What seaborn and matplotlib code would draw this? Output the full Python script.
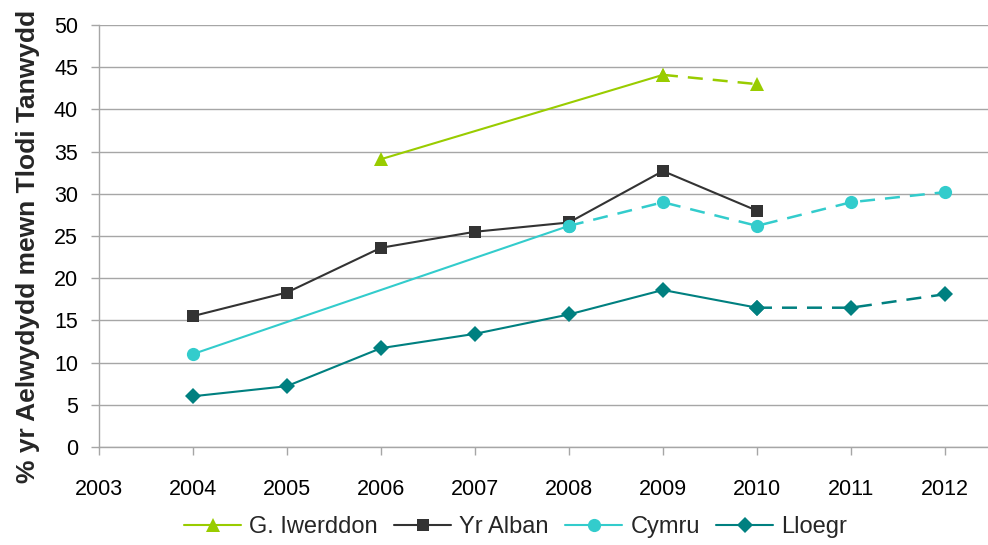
import matplotlib
matplotlib.use("Agg")
import matplotlib.pyplot as plt
import seaborn as sns
import pandas as pd
from matplotlib.lines import Line2D

# ---- data ----
series_names = ["G. Iwerddon", "Yr Alban", "Cymru", "Lloegr"]
x_ticks = [2003, 2004, 2005, 2006, 2007, 2008, 2009, 2010, 2011, 2012]
y_ticks = [0, 5, 10, 15, 20, 25, 30, 35, 40, 45, 50]

ni_years = [2006, 2009, 2010]
ni_values = [34.1, 44.1, 43.0]
ni_dashed_from = 2009

scot_years = [2004, 2005, 2006, 2007, 2008, 2009, 2010]
scot_values = [15.5, 18.3, 23.6, 25.5, 26.6, 32.7, 28.0]
scot_dashed_from = None

wales_years = [2004, 2008, 2009, 2010, 2011, 2012]
wales_values = [11.0, 26.2, 29.0, 26.2, 29.0, 30.2]
wales_dashed_from = 2008

eng_years = [2004, 2005, 2006, 2007, 2008, 2009, 2010, 2011, 2012]
eng_values = [6.0, 7.2, 11.7, 13.4, 15.7, 18.6, 16.5, 16.5, 18.1]
eng_dashed_from = 2010

ylabel = "% yr Aelwydydd mewn Tlodi Tanwydd"

# ---- style ----
colors = ["#99CC00", "#333333", "#33CCCC", "#008080"]
markers = ["^", "s", "o", "D"]
msizes = [10.5, 9, 9.5, 8.5]

sns.set_style("white")
plt.rcParams["font.family"] = ["Liberation Sans", "DejaVu Sans"]

fig = plt.figure(figsize=(9.88, 5.45), dpi=100)
ax = fig.add_axes([0.100, 0.180, 0.900, 0.774])

all_series = [
    (ni_years, ni_values, ni_dashed_from),
    (scot_years, scot_values, scot_dashed_from),
    (wales_years, wales_values, wales_dashed_from),
    (eng_years, eng_values, eng_dashed_from),
]

handles = []
for (yrs, vals, split), name, c, m, ms in zip(all_series, series_names, colors, markers, msizes):
    df = pd.DataFrame({"year": yrs, "value": vals})
    if split is None:
        solid = df
        dashed = None
    else:
        solid = df[df["year"] <= split]
        dashed = df[df["year"] >= split]
    sns.lineplot(data=solid, x="year", y="value", ax=ax, color=c, lw=1.5,
                 marker=m, markersize=ms, markeredgewidth=0, zorder=3)
    if dashed is not None and len(dashed) > 1:
        sns.lineplot(data=dashed, x="year", y="value", ax=ax, color=c, lw=1.8,
                     linestyle=(0, (6, 4)), marker=m, markersize=ms,
                     markeredgewidth=0, zorder=3)
    handles.append(Line2D([], [], color=c, lw=1.5, marker=m, markersize=ms,
                          markeredgewidth=0, label=name))

ax.set_xlim(2003, 2012.457)
ax.set_ylim(0, 50)
ax.set_xticks(x_ticks)
ax.set_xticklabels([str(t) for t in x_ticks])
ax.set_yticks(y_ticks)
ax.set_yticklabels([str(t) for t in y_ticks])
ax.set_xlabel("")
ax.set_ylabel(ylabel, fontsize=19, fontweight="bold", labelpad=10)
ax.yaxis.label.set_y(0.475)

ax.grid(axis="y", color="#A6A6A6", lw=1)
ax.grid(axis="x", visible=False)
ax.set_axisbelow(True)
for s in ["top", "right"]:
    ax.spines[s].set_visible(False)
for s in ["left", "bottom"]:
    ax.spines[s].set_color("#A6A6A6")
    ax.spines[s].set_linewidth(1)

ax.tick_params(axis="x", direction="out", length=6, width=1, color="#A6A6A6",
               labelsize=15.5, pad=17, labelcolor="#000000")
ax.tick_params(axis="y", direction="out", length=6, width=1, color="#A6A6A6",
               labelsize=15.5, pad=9, labelcolor="#000000")
ax.tick_params(bottom=True, left=True)

fig.legend(handles=handles, loc="center", bbox_to_anchor=(0.522, 0.033),
           ncol=4, frameon=False, fontsize=17, handlelength=2.4,
           handletextpad=0.35, columnspacing=0.7)

fig.savefig("out.png", dpi=100)
